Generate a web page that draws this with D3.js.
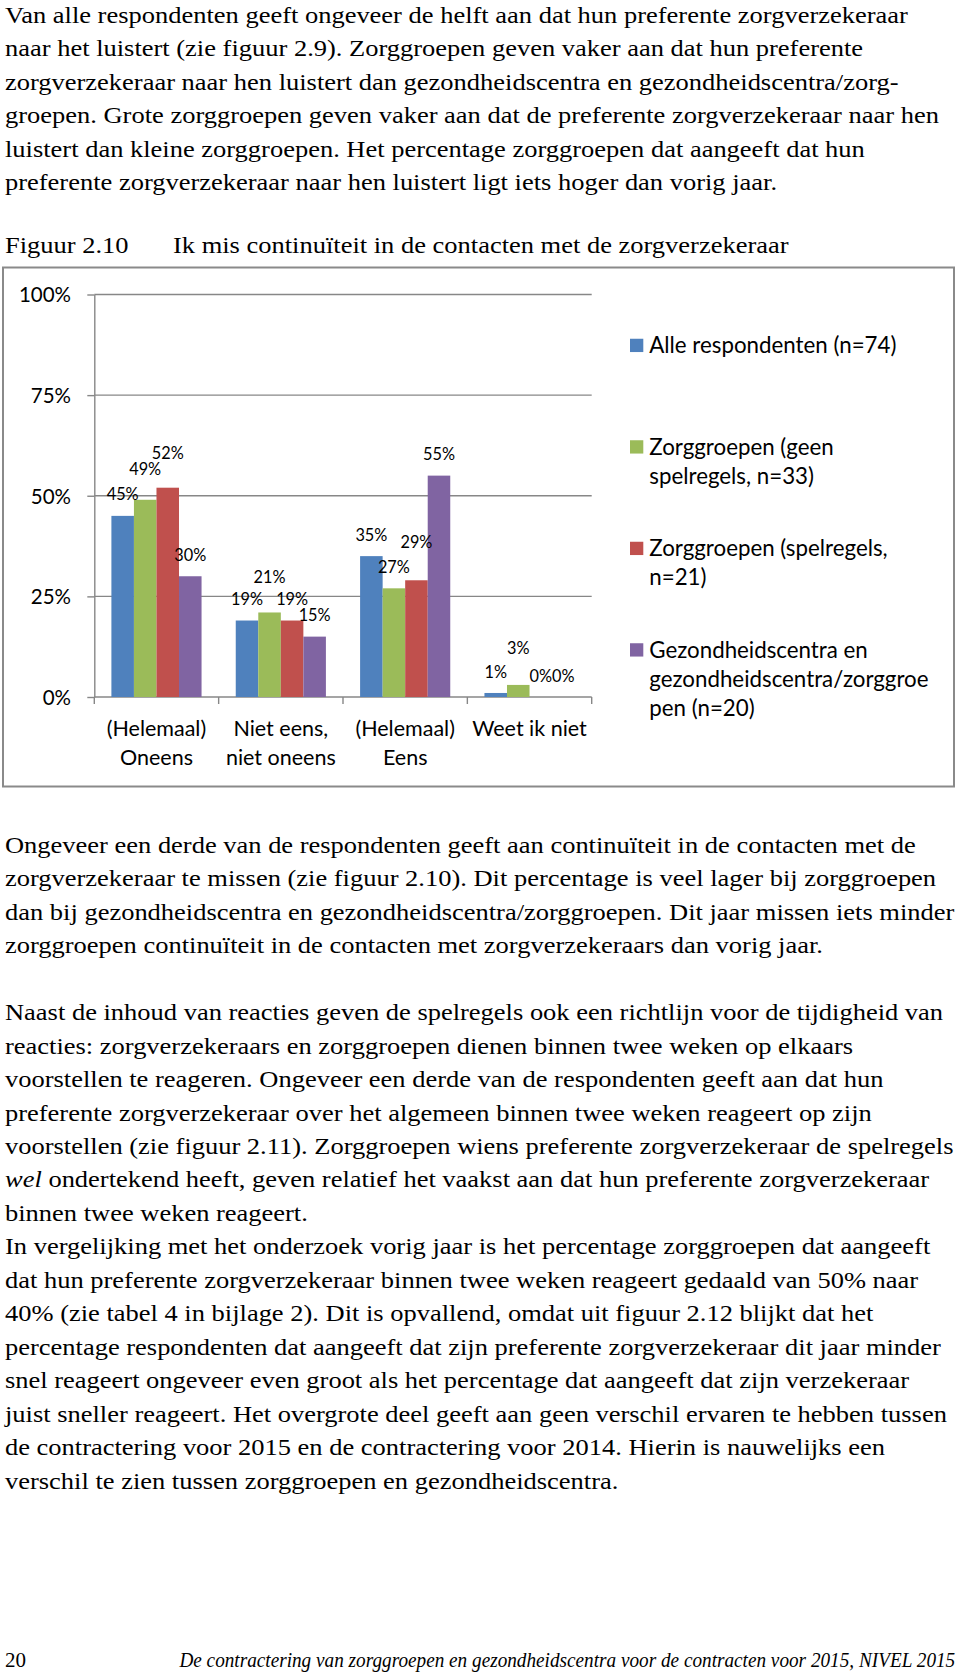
<!DOCTYPE html>
<html><head><meta charset="utf-8">
<script src="https://cdn.jsdelivr.net/npm/d3@7"></script>
<style>body{margin:0;background:#fff}svg{display:block}</style>
</head><body>
<svg id="page" width="960" height="1675"></svg>
<script>
// ---------- DATA ----------
const categories = [["(Helemaal)","Oneens"],["Niet eens,","niet oneens"],["(Helemaal)","Eens"],["Weet ik niet"]];
const seriesNames = [["Alle respondenten (n=74)"],["Zorggroepen (geen","spelregels, n=33)"],["Zorggroepen (spelregels,","n=21)"],["Gezondheidscentra en","gezondheidscentra/zorggroe","pen (n=20)"]];
const alleRespondenten = [45,19,35,1];
const zorggroepenGeen = [49,21,27,3];
const zorggroepenSpel = [52,19,29,0];
const gezondheidscentra = [30,15,55,0];
const yTickValues = [0,25,50,75,100];
const seriesColors = ["#4F81BD","#9BBB59","#C0504D","#8064A2"];

const para1 = [
"Van alle respondenten geeft ongeveer de helft aan dat hun preferente zorgverzekeraar",
"naar het luistert (zie figuur 2.9). Zorggroepen geven vaker aan dat hun preferente",
"zorgverzekeraar naar hen luistert dan gezondheidscentra en gezondheidscentra/zorg-",
"groepen. Grote zorggroepen geven vaker aan dat de preferente zorgverzekeraar naar hen",
"luistert dan kleine zorggroepen. Het percentage zorggroepen dat aangeeft dat hun",
"preferente zorgverzekeraar naar hen luistert ligt iets hoger dan vorig jaar."];
const para2 = [
"Ongeveer een derde van de respondenten geeft aan continuïteit in de contacten met de",
"zorgverzekeraar te missen (zie figuur 2.10). Dit percentage is veel lager bij zorggroepen",
"dan bij gezondheidscentra en gezondheidscentra/zorggroepen. Dit jaar missen iets minder",
"zorggroepen continuïteit in de contacten met zorgverzekeraars dan vorig jaar.",
"",
"Naast de inhoud van reacties geven de spelregels ook een richtlijn voor de tijdigheid van",
"reacties: zorgverzekeraars en zorggroepen dienen binnen twee weken op elkaars",
"voorstellen te reageren. Ongeveer een derde van de respondenten geeft aan dat hun",
"preferente zorgverzekeraar over het algemeen binnen twee weken reageert op zijn",
"voorstellen (zie figuur 2.11). Zorggroepen wiens preferente zorgverzekeraar de spelregels",
"*wel* ondertekend heeft, geven relatief het vaakst aan dat hun preferente zorgverzekeraar",
"binnen twee weken reageert.",
"In vergelijking met het onderzoek vorig jaar is het percentage zorggroepen dat aangeeft",
"dat hun preferente zorgverzekeraar binnen twee weken reageert gedaald van 50% naar",
"40% (zie tabel 4 in bijlage 2). Dit is opvallend, omdat uit figuur 2.12 blijkt dat het",
"percentage respondenten dat aangeeft dat zijn preferente zorgverzekeraar dit jaar minder",
"snel reageert ongeveer even groot als het percentage dat aangeeft dat zijn verzekeraar",
"juist sneller reageert. Het overgrote deel geeft aan geen verschil ervaren te hebben tussen",
"de contractering voor 2015 en de contractering voor 2014. Hierin is nauwelijks een",
"verschil te zien tussen zorggroepen en gezondheidscentra."];
const figLabel = "Figuur 2.10";
const figTitle = "Ik mis continuïteit in de contacten met de zorgverzekeraar";
const pageNumber = "20";
const footerText = "De contractering van zorggroepen en gezondheidscentra voor de contracten voor 2015, NIVEL 2015";

// ---------- PAGE ----------
const svg = d3.select("#page");
const SERIF = '"Liberation Serif", "Times New Roman", "DejaVu Serif", serif';
const SANS = "Lato, 'Open Sans', sans-serif";
const bodySize = 24, lineH = 33.45;

const probe = svg.append("text").style("font-family",SERIF).style("font-size",bodySize+"px").text(para1[0]);
const sx = 903 / probe.node().getComputedTextLength();
probe.remove();

function addLines(lines, x, y0, lh, scale) {
  const g = svg.append("g").attr("transform",`translate(${x},0) scale(${scale},1)`)
    .style("font-family",SERIF).style("font-size",bodySize+"px").attr("fill","#000");
  lines.forEach((ln,i)=>{
    if (!ln) return;
    const t = g.append("text").attr("x",0).attr("y",y0+i*lh);
    ln.split(/(\*[^*]+\*)/).filter(s=>s).forEach(seg=>{
      if (seg.startsWith("*")) t.append("tspan").style("font-style","italic").text(seg.slice(1,-1));
      else t.append("tspan").text(seg);
    });
  });
}
addLines(para1, 5, 23, lineH, sx);
addLines([figLabel], 5, 253, lineH, sx);
addLines([figTitle], 173, 253, lineH, sx);
addLines(para2, 5, 853, lineH, sx);

// footer
svg.append("text").attr("x",5).attr("y",1667).style("font-family",SERIF).style("font-size","21px").text(pageNumber);
const fprobe = svg.append("text").style("font-family",SERIF).style("font-style","italic").style("font-size","20px").text(footerText);
const fsx = 776 / fprobe.node().getComputedTextLength();
fprobe.remove();
svg.append("g").attr("transform",`translate(179.4,1667) scale(${fsx},1)`)
  .append("text").style("font-family",SERIF).style("font-style","italic").style("font-size","20px").text(footerText);

// ---------- CHART ----------
const gridColor = "#878787";
svg.append("rect").attr("x",3).attr("y",267.5).attr("width",951).attr("height",519)
  .attr("fill","#fff").attr("stroke","#8a8a8a").attr("stroke-width",2);

const chart = svg.append("g").style("font-family",SANS).attr("fill","#000");
const series = [alleRespondenten, zorggroepenGeen, zorggroepenSpel, gezondheidscentra];
const x0 = d3.scaleBand().domain(d3.range(categories.length)).range([94.3,591.7]).padding(0);
const bw = x0.bandwidth();
const x1 = d3.scaleBand().domain(d3.range(series.length)).range([bw*0.1375, bw*0.8625]).padding(0);
const y = d3.scaleLinear().domain([0,100]).range([697,294.5]);

// gridlines
chart.append("g").selectAll("line").data(yTickValues.filter(d=>d>0)).join("line")
  .attr("x1",x0.range()[0]).attr("x2",x0.range()[1]).attr("y1",d=>y(d)).attr("y2",d=>y(d))
  .attr("stroke",gridColor).attr("stroke-width",1.4);

// y axis
const yAxis = chart.append("g").attr("transform",`translate(${x0.range()[0]},0)`)
  .call(d3.axisLeft(y).tickValues(yTickValues).tickFormat(d=>d+"%").tickSize(7).tickSizeOuter(0).tickPadding(16.3));
yAxis.selectAll("path,line").attr("stroke",gridColor).attr("stroke-width",1.4);
yAxis.selectAll("text").style("font-family",SANS).attr("font-size",20.5).attr("fill","#000").attr("dy","0.36em");

// x axis
const xAxisG = chart.append("g");
xAxisG.append("line").attr("x1",x0.range()[0]).attr("x2",x0.range()[1]).attr("y1",y(0)).attr("y2",y(0))
  .attr("stroke",gridColor).attr("stroke-width",1.4);
const boundaries = x0.domain().map(d=>x0(d)).concat([x0.range()[1]]);
xAxisG.selectAll("line.tk").data(boundaries).join("line").attr("class","tk")
  .attr("x1",d=>d).attr("x2",d=>d).attr("y1",y(0)).attr("y2",y(0)+7)
  .attr("stroke",gridColor).attr("stroke-width",1.4);
const catG = xAxisG.selectAll("text.cat").data(categories).join("text").attr("class","cat")
  .attr("text-anchor","middle").attr("font-size",21.5).attr("fill","#000");
catG.each(function(lines,i){
  d3.select(this).selectAll("tspan").data(lines).join("tspan")
    .attr("x",x0(i)+bw/2).attr("y",(d,j)=>735.7+j*29.3).text(d=>d);
});

// bars
const barData = [];
series.forEach((vals,s)=>vals.forEach((v,c)=>barData.push({s,c,v})));
chart.append("g").selectAll("rect").data(barData).join("rect")
  .attr("x",d=>x0(d.c)+x1(d.s)).attr("width",x1.bandwidth())
  .attr("y",d=>y(d.v)).attr("height",d=>y(0)-y(d.v))
  .attr("fill",d=>seriesColors[d.s]);

// data labels (some lifted as in original to avoid overlap)
const labelLift = {"1-0":9.3,"2-0":13.7,"1-1":14,"2-2":17.3,"1-3":15.2};
const lblSize = 16.3;
chart.append("g").selectAll("text").data(barData).join("text")
  .attr("x",d=>x0(d.c)+x1(d.s)+x1.bandwidth()/2)
  .attr("y",d=>y(d.v)-21.3-(labelLift[d.s+"-"+d.c]||0)+0.358*lblSize)
  .attr("text-anchor","middle").attr("font-size",lblSize).attr("fill","#000")
  .text(d=>d.v+"%");

// legend
const leg = chart.append("g");
seriesNames.forEach((lines,s)=>{
  const b0 = 353.3 + s*101.5;
  leg.append("rect").attr("x",630).attr("y",b0-7.9-6.65).attr("width",13.3).attr("height",13.3).attr("fill",seriesColors[s]);
  const t = leg.append("text").attr("font-size",22.3).attr("fill","#000");
  lines.forEach((ln,j)=>t.append("tspan").attr("x",649.3).attr("y",b0+j*29).text(ln));
});
</script>
</body></html>
